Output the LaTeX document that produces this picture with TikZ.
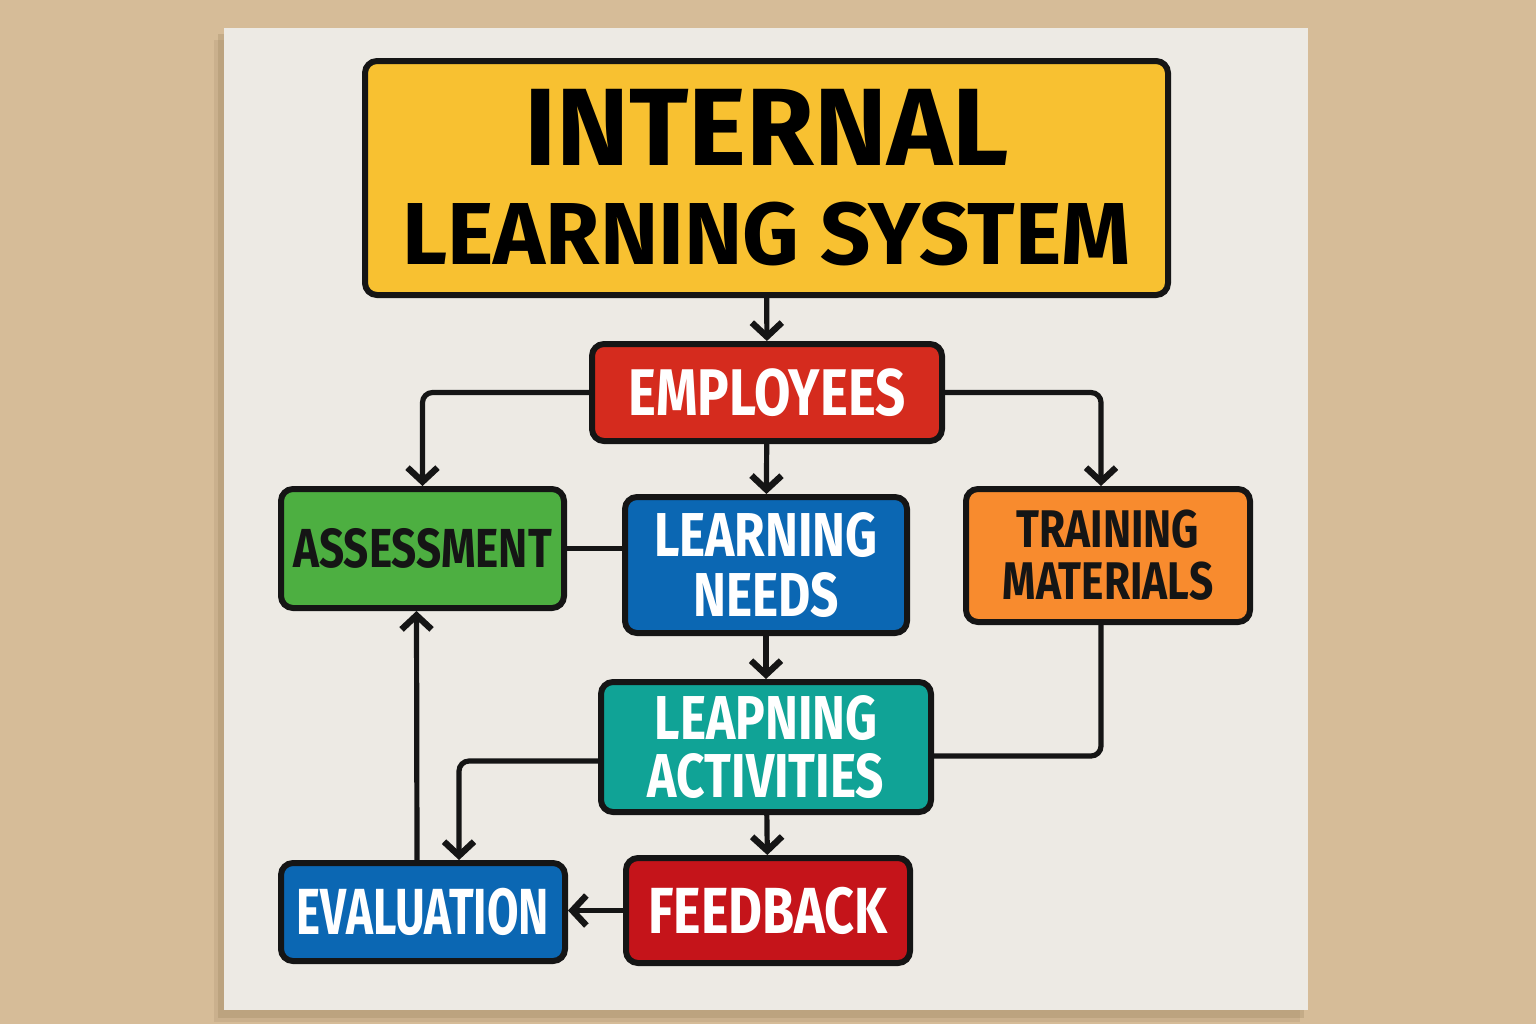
\documentclass[tikz,border=0pt]{standalone}
\usepackage{fontspec}
\newfontfamily\titlefont{Fira Sans}
\newfontfamily\signfont{Fira Sans}[FakeStretch=0.8]
\newfontfamily\narrowfont{Fira Sans}[FakeStretch=0.7]
\usetikzlibrary{arrows.meta}

\definecolor{wall}{HTML}{D6BC98}
\definecolor{wallshadow}{HTML}{9C8462}
\definecolor{board}{HTML}{EDEAE4}
\definecolor{ink}{HTML}{151515}
\definecolor{signyellow}{HTML}{F8C131}
\definecolor{signred}{HTML}{D52B1E}
\definecolor{darkred}{HTML}{C5141A}
\definecolor{signgreen}{HTML}{4DAF41}
\definecolor{signblue}{HTML}{0B67B3}
\definecolor{signorange}{HTML}{F88B2E}
\definecolor{signteal}{HTML}{10A396}

\tikzset{
  box/.style={draw=ink, line width=3pt, rounded corners=6pt, align=center, inner sep=0pt},
  flow/.style={draw=ink, line width=2.6pt, rounded corners=5pt},
  arr/.style={flow, -{Straight Barb[length=7pt, width=15pt, line width=3.2pt]}},
}

\begin{document}
\begin{tikzpicture}[x=0.5pt, y=-0.5pt]
\useasboundingbox (0,0) rectangle (1536,1024);
\fill[wall] (0,0) rectangle (1536,1024);
% board and its shadow
\fill[wallshadow, opacity=0.3] (218,34) rectangle (1304,1018);
\fill[wallshadow, opacity=0.2] (214,40) rectangle (1300,1022);
\fill[board] (224,28) rectangle (1308,1010);

\node[box, fill=signyellow, minimum width=401.5pt, minimum height=117pt,
      font=\titlefont\bfseries\fontsize{44pt}{49.5pt}\selectfont] (title) at (766.5,178)
  {{\fontsize{55pt}{49.5pt}\selectfont INTERNAL}\\LEARNING SYSTEM};

\node[box, fill=signred, text=white, minimum width=175pt, minimum height=48.5pt,
      font=\signfont\bfseries\fontsize{33pt}{28pt}\selectfont] (emp) at (767,392.5) {EMPLOYEES};
\node[box, fill=signgreen, text=ink, minimum width=141.5pt, minimum height=59.5pt,
      font=\signfont\bfseries\fontsize{27.5pt}{28pt}\selectfont] (assess) at (422.5,548.5) {ASSESSMENT};
\node[box, fill=signblue, text=white, minimum width=141pt, minimum height=68pt,
      font=\signfont\bfseries\fontsize{31pt}{30pt}\selectfont] (needs) at (766,565) {LEARNING\\NEEDS};
\node[box, fill=signorange, text=ink, minimum width=142pt, minimum height=66.5pt,
      font=\signfont\bfseries\fontsize{26.5pt}{26pt}\selectfont] (train) at (1108,555.5) {TRAINING\\MATERIALS};
\node[box, fill=signteal, text=white, minimum width=165pt, minimum height=65pt,
      font=\signfont\bfseries\fontsize{31pt}{28.5pt}\selectfont] (act) at (766,747) {LEAPNING\\ACTIVITIES};
\node[box, fill=signblue, text=white, minimum width=142pt, minimum height=49pt,
      font=\narrowfont\bfseries\fontsize{32.6pt}{28pt}\selectfont] (eval) at (423,912) {EVALUATION};
\node[box, fill=darkred, text=white, minimum width=142pt, minimum height=52.5pt,
      font=\signfont\bfseries\fontsize{32.6pt}{28pt}\selectfont] (fb) at (768,910.5) {FEEDBACK};

\draw[arr] (title) -- (emp);
\draw[arr] (emp.west) -| (assess.north);
\draw[arr] (emp.east) -| ([xshift=-3.5pt]train.north);
\draw[arr] (emp) -- (needs);
\draw[flow] (assess.east) -- (assess.east -| needs.west);
\draw[arr] (needs) -- (act);
\draw[flow] ([xshift=-3.5pt]train.south) |- ([yshift=-4.5pt]act.east);
\draw[arr] ([yshift=-7pt]act.west) -| ([xshift=18pt]eval.north);
\draw[arr] ([xshift=-3pt]eval.north) -- ([xshift=-3pt]assess.south);
\draw[arr] (act) -- (fb);
\draw[arr] (fb.west) -- (fb.west -| eval.east);
\end{tikzpicture}
\end{document}
